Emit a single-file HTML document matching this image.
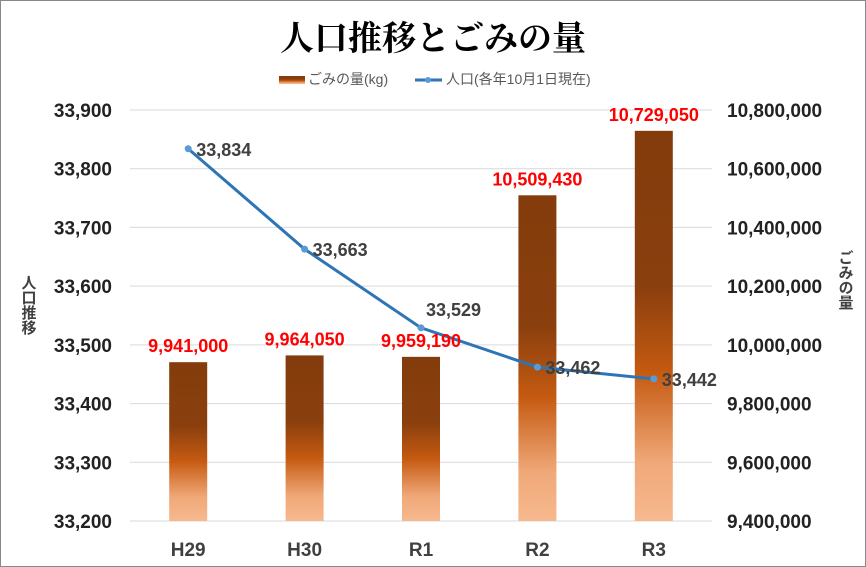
<!DOCTYPE html>
<html><head><meta charset="utf-8"><style>
body{margin:0;background:#fff}
svg{display:block;font-family:"Liberation Sans","Noto Sans CJK JP",sans-serif}
</style></head><body>
<svg id="c" width="866" height="567">
<defs><linearGradient id="g" x1="0" y1="0" x2="0" y2="1">
<stop offset="0" stop-color="#843c0c"/><stop offset="0.4" stop-color="#8a3f0e"/>
<stop offset="0.62" stop-color="#c55a11"/><stop offset="0.85" stop-color="#f0a878"/><stop offset="1" stop-color="#f6b98e"/></linearGradient></defs>
<rect x="0.5" y="0.5" width="865" height="566" fill="#fff" stroke="#888"/>
<text x="433" y="50" text-anchor="middle" font-family="'Liberation Serif','Noto Serif CJK SC',serif" font-weight="bold" font-size="34">人口推移とごみの量</text>
<g>
<rect x="279" y="76" width="26" height="8" fill="url(#g)"/>
<text x="308" y="84" font-size="14" fill="#595959">ごみの量(kg)</text>
<line x1="415" y1="80" x2="442" y2="80" stroke="#2e75b6" stroke-width="3"/><circle cx="428" cy="80" r="3" fill="#5b9bd5"/>
<text x="446" y="84" font-size="14" fill="#595959">人口(各年10月1日現在)</text>
</g>
<text x="28" y="275" font-size="15" font-weight="bold" fill="#404040" style="writing-mode:vertical-rl">人口推移</text>
<text x="845" y="250" font-size="15" font-weight="bold" fill="#404040" style="writing-mode:vertical-rl">ごみの量</text>
<g id="grid"></g><g id="bars"></g><g id="line"></g><g id="labels"></g>
</svg>
<script>
const categories=["H29","H30","R1","R2","R3"];
const population=[33834,33663,33529,33462,33442];
const garbage=[9941000,9964050,9959190,10509430,10729050];
const leftTicks=[33200,33300,33400,33500,33600,33700,33800,33900];
const rightTicks=[9400000,9600000,9800000,10000000,10200000,10400000,10600000,10800000];
const NS="http://www.w3.org/2000/svg";
const X0=130,X1=712,Y0=521,Y1=110;
const yL=v=>Y0-(v-33200)/(700)*(Y0-Y1);
const yR=v=>Y0-(v-9400000)/(1400000)*(Y0-Y1);
const step=(X1-X0)/categories.length;
const xC=i=>X0+step*(i+0.5);
function mk(t,a,p){const e=document.createElementNS(NS,t);for(const k in a)e.setAttribute(k,a[k]);p.appendChild(e);return e;}
const fmt=v=>v.toLocaleString("en-US");
const grid=document.getElementById("grid"),bars=document.getElementById("bars"),line=document.getElementById("line"),labels=document.getElementById("labels");
leftTicks.forEach(v=>{const y=yL(v);
const l=mk("line",{x1:X0,x2:X1,y1:y,y2:y,stroke:"#d9d9d9"},grid);


const t=mk("text",{x:112,y:y+7,"text-anchor":"end","font-size":19,"font-weight":"bold",fill:"#222"},grid);t.textContent=fmt(v);

});
rightTicks.forEach(v=>{const t=mk("text",{x:727,y:yR(v)+7,"font-size":19,"font-weight":"bold",fill:"#222"},grid);t.textContent=fmt(v);

});
categories.forEach((c,i)=>{const t=mk("text",{x:xC(i),y:556,"text-anchor":"middle","font-size":19,"font-weight":"bold",fill:"#404040"},grid);t.textContent=c;


const y=yR(garbage[i]);
const b=mk("rect",{x:xC(i)-19,y:y,width:38,height:Y0-y,fill:"url(#g)"},bars);


const bl=mk("text",{x:xC(i),y:y-10,"text-anchor":"middle","font-size":18,"font-weight":"bold",fill:"#ff0000"},labels);bl.textContent=fmt(garbage[i]);

});
const pts=population.map((v,i)=>xC(i)+","+yL(v)).join(" ");
const pl=mk("polyline",{points:pts,fill:"none",stroke:"#2e75b6","stroke-width":3},line);


population.forEach((v,i)=>{const p=mk("circle",{cx:xC(i),cy:yL(v),r:3.5,fill:"#5b9bd5"},line);


const t=mk("text",{x:xC(i)+8,y:yL(v)+(i==2?-12:7),"font-size":18,"font-weight":"bold",fill:"#404040"},labels);t.textContent=fmt(v);
if(i==2)t.setAttribute("x",xC(i)+5);

});
</script>
</body></html>
